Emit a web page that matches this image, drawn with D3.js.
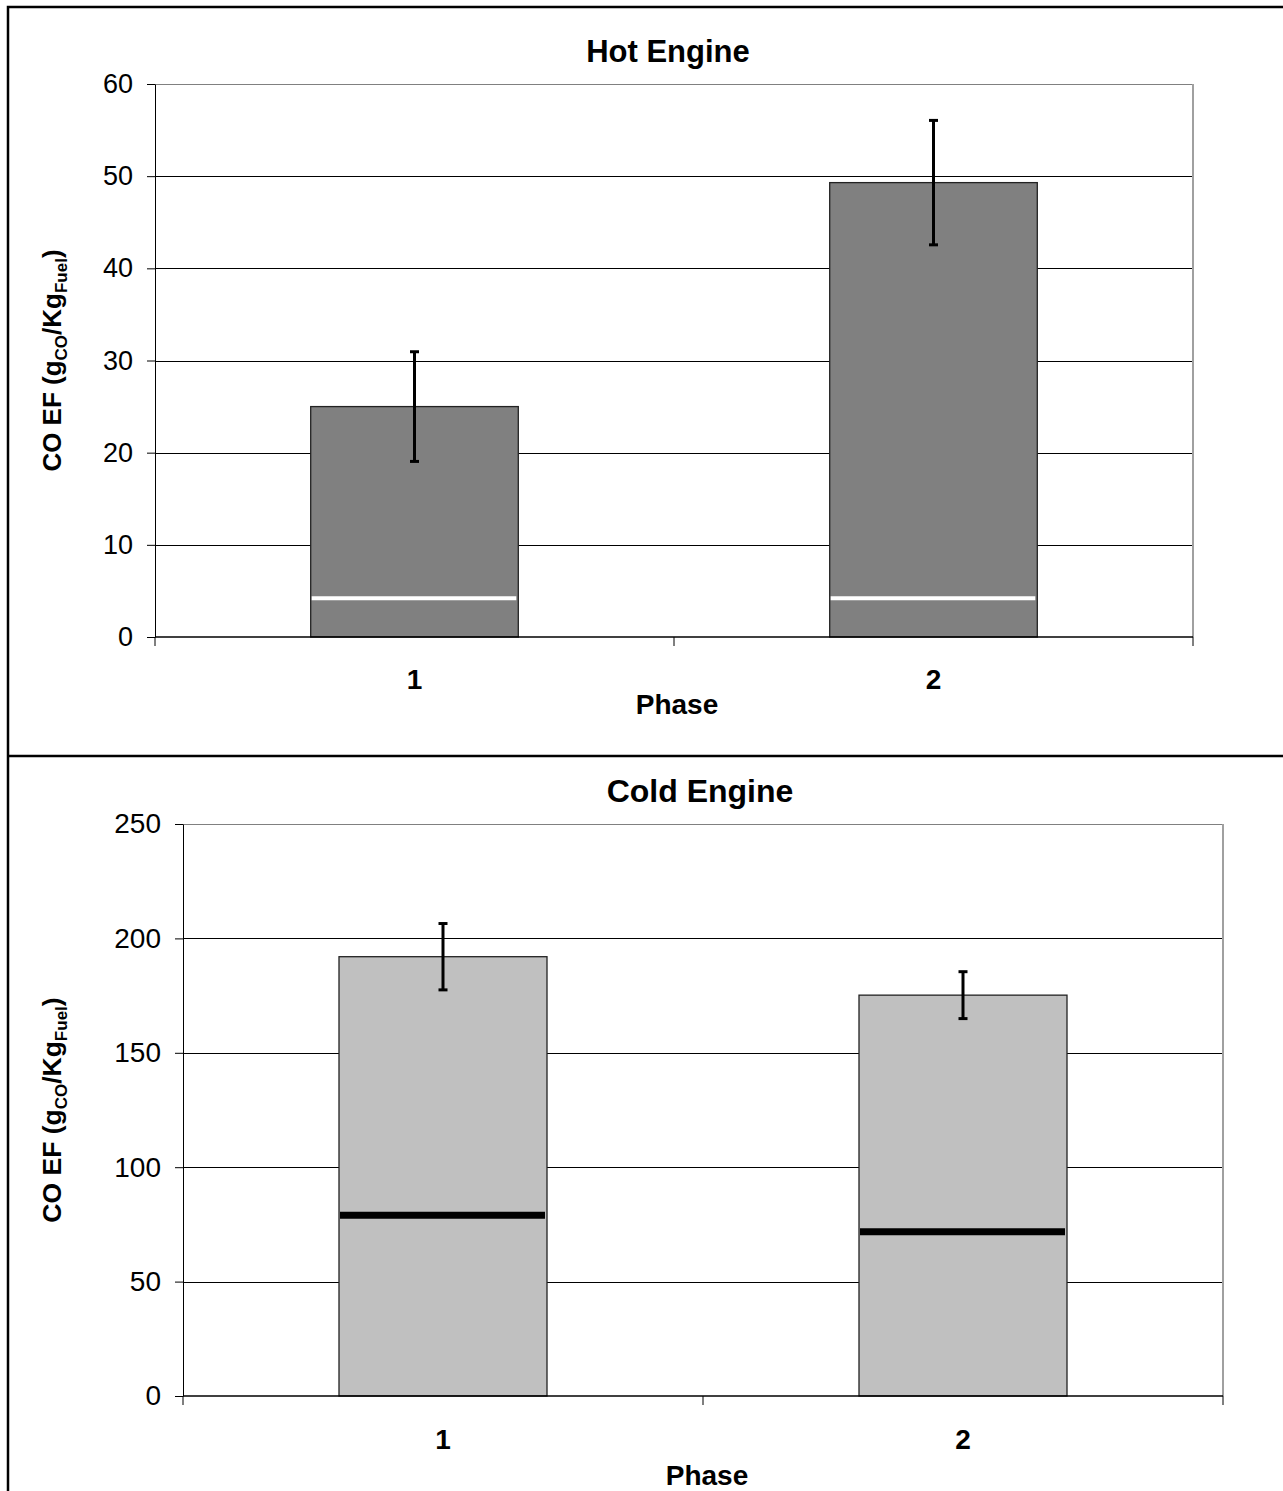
<html>
<head>
    <script src="https://cdn.jsdelivr.net/npm/d3@7"></script>
    <style>
        body { margin: 0; background: #fff; }
        text { font-family: "Liberation Sans", Arial, sans-serif; }
        .axis path, .axis line { stroke: #000; }
    </style>
</head>
<body>
    <svg width="1283" height="1491" id="chart"></svg>
    <script>
        // Phases on the x axis
        const phases = ["1", "2"];

        // Hot engine: mean CO EF, error (+/-), and the white marker line value
        const hotMeans = [25, 49.3];
        const hotErrors = [5.95, 6.75];
        const hotMarks = [4.2, 4.2];
        const hotTicks = [0, 10, 20, 30, 40, 50, 60];

        // Cold engine: mean CO EF, error (+/-), and the black marker line value
        const coldMeans = [192, 175.2];
        const coldErrors = [14.5, 10.25];
        const coldMarks = [79, 71.8];
        const coldTicks = [0, 50, 100, 150, 200, 250];

        const svg = d3.select("#chart");

        // Outer frame and divider between the two charts
        svg.append("rect").attr("x", 8).attr("y", 7).attr("width", 1290).attr("height", 1500)
            .attr("fill", "none").attr("stroke", "#000").attr("stroke-width", 2.5);
        svg.append("line").attr("x1", 8).attr("x2", 1283).attr("y1", 756).attr("y2", 756)
            .attr("stroke", "#000").attr("stroke-width", 2.5);

        const drawPanel = function (cfg) {
            const x = d3.scaleBand().domain(phases)
                .range([cfg.left, cfg.right]).paddingInner(0.6).paddingOuter(0.3);
            const y = d3.scaleLinear().domain([0, d3.max(cfg.ticks)]).range([cfg.bottom, cfg.top]);
            const g = svg.append("g");

            // Gridlines
            g.selectAll(".grid").data(cfg.ticks.filter(t => t > 0)).join("line")
                .attr("x1", cfg.left).attr("x2", cfg.right)
                .attr("y1", d => Math.round(y(d)) + 0.5).attr("y2", d => Math.round(y(d)) + 0.5)
                .attr("stroke", d => d === d3.max(cfg.ticks) ? "#808080" : "#000").attr("stroke-width", 1);

            // Right edge of plot area
            g.append("line").attr("x1", cfg.right).attr("x2", cfg.right)
                .attr("y1", cfg.top).attr("y2", cfg.bottom)
                .attr("stroke", "#a0a0a0").attr("stroke-width", 2);

            // Bars
            g.selectAll(".bar").data(cfg.means).join("rect")
                .attr("x", (d, i) => x(phases[i]))
                .attr("y", d => y(d))
                .attr("width", x.bandwidth())
                .attr("height", d => y(0) - y(d))
                .attr("fill", cfg.fill).attr("stroke", "#222").attr("stroke-width", 1.3);

            // Marker lines inside bars
            g.selectAll(".mark").data(cfg.marks).join("line")
                .attr("x1", (d, i) => x(phases[i]) + 1)
                .attr("x2", (d, i) => x(phases[i]) + x.bandwidth() - 2)
                .attr("y1", d => y(d)).attr("y2", d => y(d))
                .attr("stroke", cfg.markColor).attr("stroke-width", cfg.markWidth);

            // Error bars
            const errs = cfg.means.map((m, i) => ({ cx: x(phases[i]) + x.bandwidth() / 2, lo: m - cfg.errors[i], hi: m + cfg.errors[i] }));
            const eb = g.selectAll(".err").data(errs).join("g");
            eb.append("line").attr("x1", d => d.cx).attr("x2", d => d.cx)
                .attr("y1", d => y(d.lo)).attr("y2", d => y(d.hi))
                .attr("stroke", "#000").attr("stroke-width", 3);
            [d => d.lo, d => d.hi].forEach(f => {
                eb.append("line").attr("x1", d => d.cx - 4.5).attr("x2", d => d.cx + 4.5)
                    .attr("y1", d => y(f(d))).attr("y2", d => y(f(d)))
                    .attr("stroke", "#000").attr("stroke-width", 3);
            });

            // Y axis
            const yAxis = d3.axisLeft(y).tickValues(cfg.ticks).tickSize(8).tickSizeOuter(0).tickPadding(14);
            const ya = g.append("g").attr("class", "axis").attr("transform", `translate(${cfg.left},0)`).call(yAxis);
            ya.selectAll("text").style("font-size", cfg.tickSize).attr("fill", "#000");

            // X axis line and category boundary ticks
            g.append("line").attr("x1", cfg.left).attr("x2", cfg.right)
                .attr("y1", cfg.bottom).attr("y2", cfg.bottom).attr("stroke", "#000").attr("stroke-width", 1.5);
            const bounds = d3.range(phases.length + 1).map(i => cfg.left + i * x.step());
            g.selectAll(".xtick").data(bounds).join("line")
                .attr("x1", d => d).attr("x2", d => d)
                .attr("y1", cfg.bottom).attr("y2", cfg.bottom + 9)
                .attr("stroke", "#000").attr("stroke-width", 1);
            g.selectAll(".xlab").data(phases).join("text")
                .attr("x", d => x(d) + x.bandwidth() / 2).attr("y", cfg.bottom + cfg.xLabelGap)
                .attr("text-anchor", "middle").style("font-size", cfg.phaseSize).style("font-weight", "bold")
                .text(d => d);

            // Titles
            const midX = (cfg.left + cfg.right) / 2;
            g.append("text").attr("x", midX + cfg.titleShift).attr("y", cfg.titleY)
                .attr("text-anchor", "middle").style("font-size", cfg.titleSize).style("font-weight", "bold")
                .text(cfg.title);
            g.append("text").attr("x", midX + cfg.phaseShift).attr("y", cfg.phaseY)
                .attr("text-anchor", "middle").style("font-size", cfg.phaseSize).style("font-weight", "bold")
                .text("Phase");

            const yl = g.append("text")
                .attr("transform", `translate(61, ${(cfg.top + cfg.bottom) / 2}) rotate(-90)`)
                .attr("text-anchor", "middle").style("font-size", cfg.labelSize).style("font-weight", "bold");
            yl.append("tspan").text("CO EF (g");
            yl.append("tspan").attr("dy", 6).style("font-size", "17px").text("CO");
            yl.append("tspan").attr("dy", -6).text("/Kg");
            yl.append("tspan").attr("dy", 6).style("font-size", "17px").text("Fuel");
            yl.append("tspan").attr("dy", -6).text(")");
        };

        drawPanel({
            title: "Hot Engine", means: hotMeans, errors: hotErrors, marks: hotMarks, ticks: hotTicks,
            left: 155, right: 1193, top: 84, bottom: 637,
            fill: "#808080", markColor: "#fff", markWidth: 4,
            titleY: 62, titleSize: "31px", titleShift: -6,
            phaseY: 714, phaseSize: "28px", phaseShift: 3, xLabelGap: 52,
            tickSize: "27px", labelSize: "26px"
        });

        drawPanel({
            title: "Cold Engine", means: coldMeans, errors: coldErrors, marks: coldMarks, ticks: coldTicks,
            left: 183, right: 1223, top: 824, bottom: 1396,
            fill: "#c0c0c0", markColor: "#000", markWidth: 7,
            titleY: 802, titleSize: "32px", titleShift: -3,
            phaseY: 1485, phaseSize: "28px", phaseShift: 4, xLabelGap: 53,
            tickSize: "28px", labelSize: "26.5px"
        });
    </script>
</body>
</html>
